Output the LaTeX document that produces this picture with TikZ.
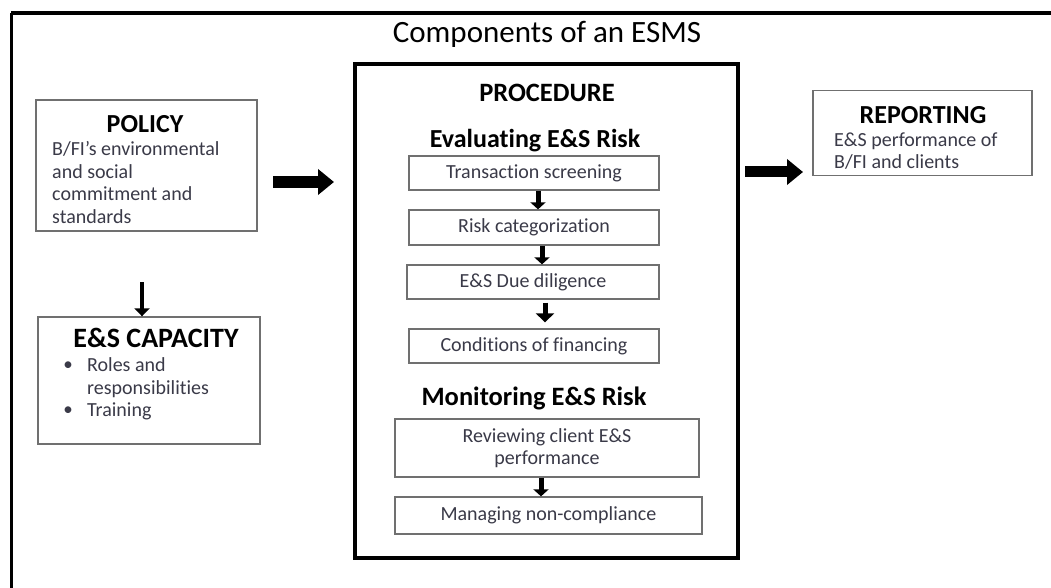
\documentclass[tikz,border=0pt]{standalone}
\usepackage{fontspec}
\setmainfont{Carlito}[Ligatures=NoCommon]
\usetikzlibrary{arrows.meta}
\newcommand{\fsz}[2]{\fontsize{#1}{#2}\selectfont}
\definecolor{bodytxt}{HTML}{3A3A48}
\definecolor{boxline}{HTML}{707070}
\tikzset{
  x=1pt, y=-1pt,
  framebox/.style={draw=boxline, line width=1.4pt, fill=white, inner sep=0pt},
  stepbox/.style={draw=boxline, line width=1.3pt, fill=white, inner sep=0pt, text=bodytxt, font=\fsz{20}{22}},
  bigarrow/.style={line width=11pt, -{Triangle[length=16pt, width=25pt]}},
  downarrow/.style={line width=4pt, -{Triangle[length=8pt, width=15pt]}},
  smallarrow/.style={line width=5pt, -{Triangle[length=7pt, width=15pt]}},
  heading/.style={inner sep=0pt, font=\bfseries},
  bodytext/.style={inner sep=0pt, text=bodytxt, font=\fsz{20}{22.5}, align=left, anchor=west},
}
\begin{document}
\begin{tikzpicture}
\useasboundingbox (0,0) rectangle (1051,588);
\fill[white] (0,0) rectangle (1051,588);
% outer frame (open to the right and bottom)
\coordinate (frameTL) at (11,13);
\coordinate (frameTR) at (1051,13);
\coordinate (frameBL) at (11,588);
\draw[line width=4pt] (frameTR) -- (frameTL);
\draw[line width=3pt] (frameTL) -- (frameBL);
\node[inner sep=0pt, font=\fsz{31}{34}] (title) at (547,34) {Components of an ESMS};

% procedure box
\node[draw, line width=4pt, minimum width=383pt, minimum height=494pt, inner sep=0pt] (proc) at (546.5,311) {};
\node[heading, font=\bfseries\fsz{26.5}{28}] (proctitle) at (547,93) {PROCEDURE};
\node[heading, font=\bfseries\fsz{26}{28}] (evalt) at (535,141) {Evaluating E\&S Risk};
\node[stepbox, minimum width=250pt, minimum height=34pt] (ts) at (534,173) {Transaction screening};
\node[stepbox, minimum width=250pt, minimum height=35pt] (rc) at (534,227.5) {Risk categorization};
\node[stepbox, minimum width=252pt, minimum height=34pt] (dd) at (533,282) {E\&S Due diligence};
\node[stepbox, minimum width=250pt, minimum height=34pt] (cf) at (534,346) {Conditions of financing};
\node[heading, font=\bfseries\fsz{26.5}{28}] (mont) at (534,398) {Monitoring E\&S Risk};
\node[stepbox, minimum width=304pt, minimum height=58pt, align=center] (rv) at (547,448) {Reviewing client E\&S\\performance};
\node[stepbox, minimum width=307pt, minimum height=37pt] (mn) at (548.5,515.5) {Managing non-compliance};

\draw[smallarrow] ([xshift=4pt]ts.south) -- ([xshift=4pt]rc.north);
\draw[smallarrow] ([xshift=8pt]rc.south) -- ([xshift=9pt]dd.north);
\draw[smallarrow, shorten <=3pt, shorten >=6pt, -{Triangle[length=9pt, width=18pt]}] ([xshift=12pt]dd.south) -- ([xshift=11pt]cf.north);
\draw[smallarrow] ([xshift=-6pt]rv.south) -- ([xshift=-7.5pt]mn.north);

% policy
\node[framebox, minimum width=221pt, minimum height=131pt] (policy) at (146.5,165.5) {};
\node[heading, font=\bfseries\fsz{26}{28}] (policyt) at (145,124) {POLICY};
\node[bodytext] (policyb) at (52,182.5) {B/FI’s environmental\\and social\\commitment and\\standards};

% capacity
\node[framebox, minimum width=222pt, minimum height=127pt] (cap) at (149,380.5) {};
\node[heading, font=\bfseries\fsz{28}{30}] (capt) at (156,338) {E\&S CAPACITY};
\node[inner sep=0pt, font=\fsz{19}{22}, text=bodytxt] (b1) at (68,366) {•};
\node[bodytext] (capb1) at (87,377.5) {Roles and\\responsibilities};
\node[inner sep=0pt, font=\fsz{19}{22}, text=bodytxt] (b2) at (68,411.5) {•};
\node[bodytext] (capb2) at (87,411.5) {Training};

% reporting
\node[framebox, minimum width=219pt, minimum height=85pt] (report) at (922.5,133) {};
\node[heading, font=\bfseries\fsz{26}{28}] (reportt) at (923,115) {REPORTING};
\node[bodytext] (reportb) at (834,151) {E\&S performance of\\B/FI and clients};

% big arrows
\coordinate (a1s) at (273,182);
\coordinate (a1e) at (334,182);
\draw[bigarrow] (a1s) -- (a1e);
\coordinate (a2s) at (745,172);
\coordinate (a2e) at (803,172);
\draw[bigarrow] (a2s) -- (a2e);
\draw[downarrow] (142,282) -- (cap.north -| 142,0);
\end{tikzpicture}
\end{document}
